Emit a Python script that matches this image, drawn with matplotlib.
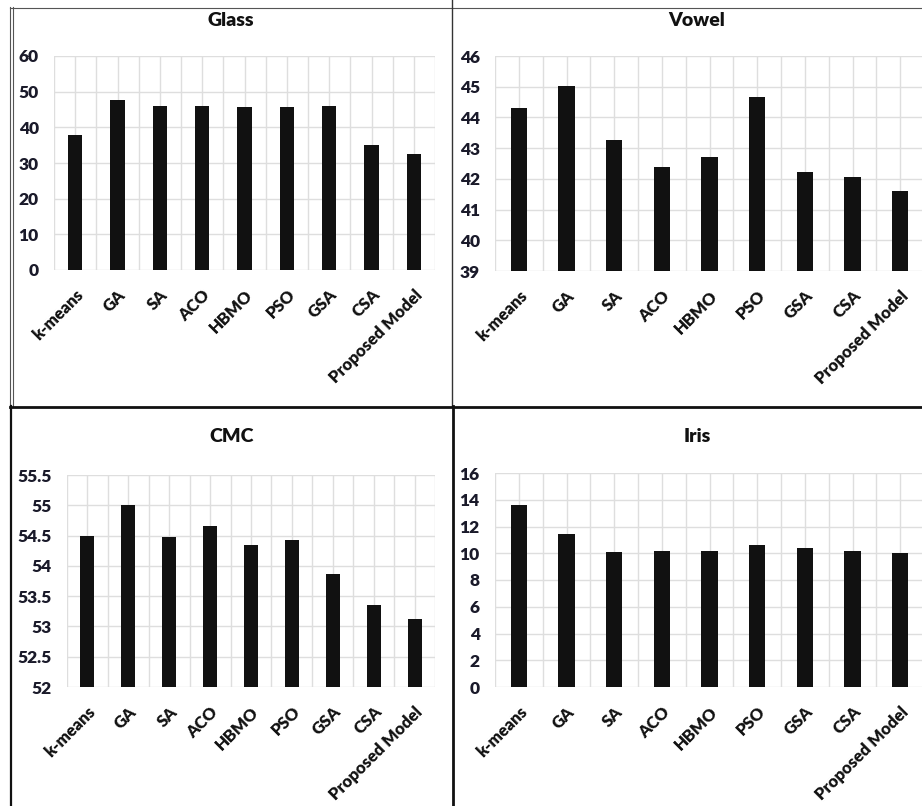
import matplotlib
matplotlib.use("Agg")
import matplotlib.pyplot as plt
from matplotlib.lines import Line2D
import numpy as np

plt.rcParams['font.family'] = ['Lato', 'DejaVu Sans']

categories = ["k-means", "GA", "SA", "ACO", "HBMO", "PSO", "GSA", "CSA", "Proposed Model"]

glass = [37.8, 47.7, 46.1, 46.1, 45.6, 45.6, 46.1, 35.1, 32.4]
vowel = [44.30, 45.02, 43.28, 42.37, 42.70, 44.65, 42.23, 42.06, 41.60]
cmc = [54.50, 55.00, 54.47, 54.66, 54.35, 54.43, 53.87, 53.36, 53.13]
iris = [13.6, 11.45, 10.1, 10.2, 10.2, 10.6, 10.4, 10.2, 10.0]

W, H = 922, 806
fig = plt.figure(figsize=(W / 100, H / 100), dpi=100)


def fx(px):
    return px / W


def fy(py):
    return 1 - py / H


panels = [
    # title, values, ylim, ticks, labels, (left, right, top, bottom) px, title xy px
    ("Glass", glass, (0, 60), np.arange(0, 61, 10), None, (54, 435, 56, 270), (231, 20)),
    ("Vowel", vowel, (39, 46), np.arange(39, 47, 1), None, (495, 924, 56, 271), (697, 20)),
    ("CMC", cmc, (52, 55.5), np.arange(52, 55.51, 0.5),
     ["52", "52.5", "53", "53.5", "54", "54.5", "55", "55.5"], (67, 435, 475, 687), (232, 437)),
    ("Iris", iris, (0, 16), np.arange(0, 17, 2), None, (495, 924, 473, 687), (697, 437)),
]

x = np.arange(len(categories))
ink = "#111111"
grid_c = "#dedede"

for title, vals, ylim, ticks, tlabels, (l, r, t, b), (tx, ty) in panels:
    ax = fig.add_axes([fx(l), fy(b), fx(r) - fx(l), fy(t) - fy(b)])
    ax.bar(x, np.array(vals) - ylim[0], bottom=ylim[0], width=0.34, color=ink, zorder=3)
    ax.set_xlim(-0.5, len(categories) - 0.5)
    ax.set_ylim(*ylim)
    ax.set_yticks(ticks)
    if tlabels is not None:
        ax.set_yticklabels(tlabels)
    else:
        ax.set_yticklabels([f"{v:g}" for v in ticks])
    ax.set_xticks(x)
    ax.set_xticks(np.arange(-0.5, len(categories), 1.0), minor=True)
    ax.set_xticklabels(categories, rotation=45, ha="right", rotation_mode="anchor",
                       fontsize=12, fontweight="heavy", color=ink)
    for lab in ax.get_yticklabels():
        lab.set_fontweight("heavy")
        lab.set_fontsize(12.5)
        lab.set_color("#1a1a2a")
    ax.tick_params(axis="both", which="both", length=0)
    ax.tick_params(axis="y", pad=11)
    ax.tick_params(axis="x", pad=12)
    ax.grid(True, which="major", axis="both", color=grid_c, linewidth=1.0, zorder=0)
    ax.grid(True, which="minor", axis="x", color=grid_c, linewidth=1.0, zorder=0)
    ax.set_axisbelow(True)
    for s in ax.spines.values():
        s.set_visible(False)
    fig.text(fx(tx), fy(ty), title, ha="center", va="center",
             fontsize=14, fontweight="heavy", color=ink)

# panel frames
def hline(y, x0, x1, lw, c):
    fig.add_artist(Line2D([fx(x0), fx(x1)], [fy(y), fy(y)], color=c, linewidth=lw))


def vline(xp, y0, y1, lw, c):
    fig.add_artist(Line2D([fx(xp), fx(xp)], [fy(y0), fy(y1)], color=c, linewidth=lw))


hline(7.5, 10, 922, 0.8, "#555555")
vline(10, 7, 406, 0.8, "#555555")
vline(12.5, 7, 406, 0.8, "#555555")
vline(452, 0, 406, 1.0, "#333333")
hline(406.5, 10, 922, 2.0, "#111111")
vline(10.5, 406, 806, 1.6, "#111111")
vline(452.5, 406, 806, 2.0, "#111111")

fig.savefig("out.png", dpi=100)
